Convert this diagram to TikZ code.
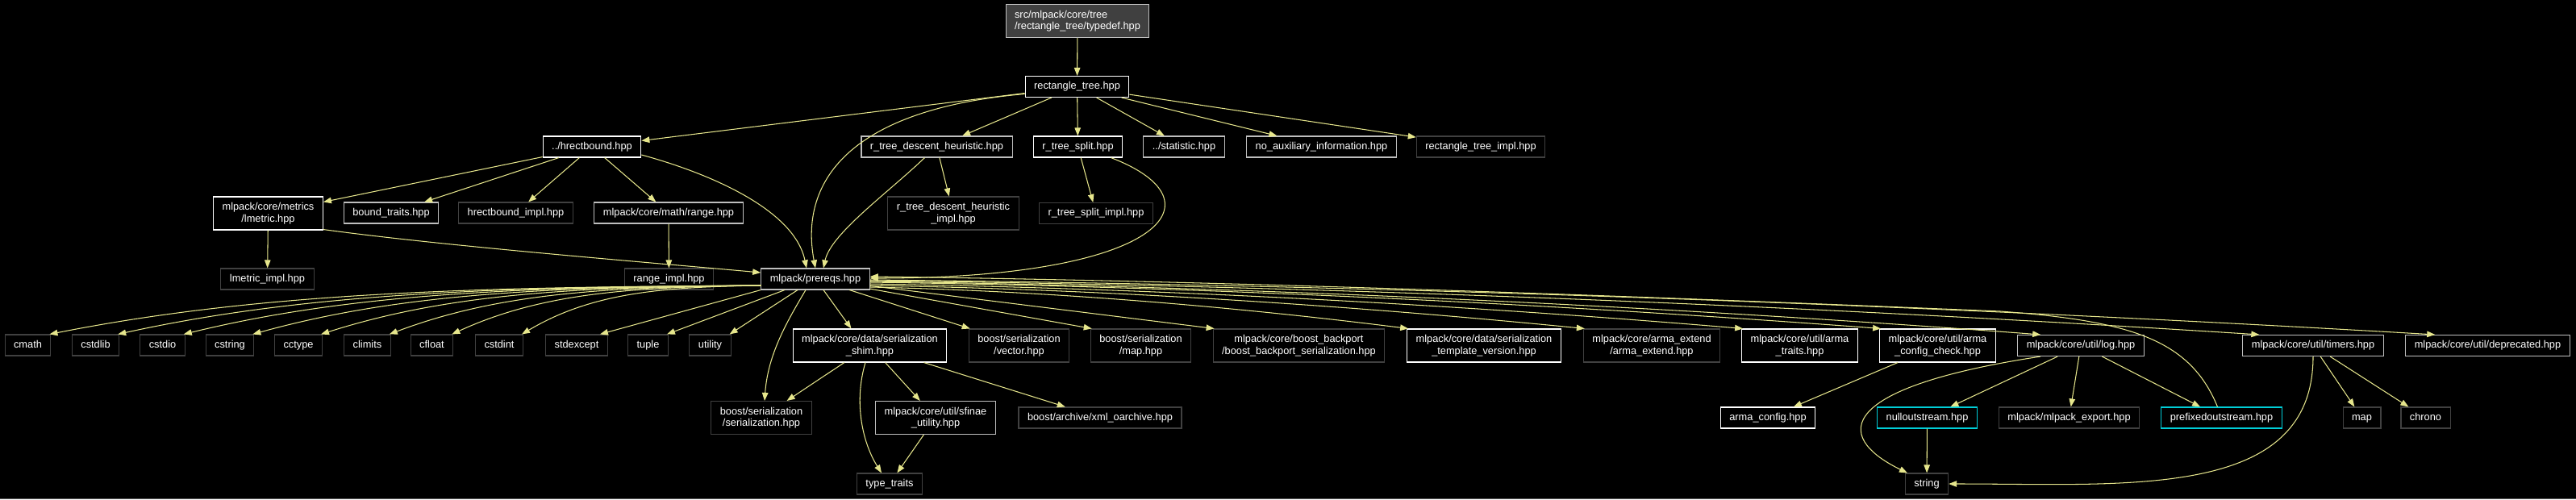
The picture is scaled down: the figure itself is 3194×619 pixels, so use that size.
\documentclass[tikz,border=0pt]{standalone}
\usepackage{fontspec}
\setmainfont{Liberation Sans}
\usetikzlibrary{arrows.meta,calc}
\definecolor{edgecol}{RGB}{230,230,140}
\definecolor{docb}{RGB}{255,255,255}
\definecolor{lgb}{RGB}{190,190,190}
\definecolor{undoc}{RGB}{64,64,64}
\definecolor{cyanb}{RGB}{0,205,215}
\definecolor{topfill}{RGB}{64,64,64}
\definecolor{framegray}{RGB}{90,90,90}
\newcommand\nodefont{\fontsize{12.8pt}{14.5pt}\selectfont}
\begin{document}
\begin{tikzpicture}[x=1pt,y=-1pt,
  nbox/.style={draw=docb, fill=black, text=white, line width=1.1pt, inner xsep=11pt, inner ysep=0pt, font=\nodefont, anchor=center},
  sbox/.style={nbox, minimum height=26pt, text height=9.4pt, text depth=2.8pt},
  tbox/.style={nbox, align=center, minimum height=41pt},
  doc/.style={draw=docb},
  lg/.style={draw=lgb},
  ud/.style={draw=undoc},
  cy/.style={draw=cyanb},
  conn/.style={draw=edgecol, line width=1.05pt, -{Triangle[length=10pt,width=7.5pt]}}]
\fill[black] (0,0) rectangle (3194,619);
\useasboundingbox (0,0) rectangle (3194,619);
\draw[framegray, line width=1pt] (0,618.5) -- (3194,618.5);

% nodes
\node[tbox,lg,fill=topfill,align=left] (top) at (1336,26) {src/mlpack/core/tree\\/rectangle\_tree/typedef.hpp};
\node[sbox,doc] (rect) at (1335.5,107.5) {rectangle\_tree.hpp};

\node[sbox,doc] (hrect) at (734,182) {../hrectbound.hpp};
\node[sbox,lg] (rtd) at (1161.5,182) {r\_tree\_descent\_heuristic.hpp};
\node[sbox,doc] (rts) at (1336.5,182) {r\_tree\_split.hpp};
\node[sbox,lg] (stat) at (1468,182) {../statistic.hpp};
\node[sbox,lg] (noaux) at (1638.5,182) {no\_auxiliary\_information.hpp};
\node[sbox,ud] (rimpl) at (1836,182) {rectangle\_tree\_impl.hpp};

\node[tbox,doc] (lmetric) at (332.5,264.5) {mlpack/core/metrics\\/lmetric.hpp};
\node[sbox,lg] (btraits) at (485,264) {bound\_traits.hpp};
\node[sbox,ud] (himpl) at (639.5,264) {hrectbound\_impl.hpp};
\node[sbox,lg] (range) at (829,264) {mlpack/core/math/range.hpp};
\node[tbox,ud] (rtdimpl) at (1182,264.5) {r\_tree\_descent\_heuristic\\\_impl.hpp};
\node[sbox,ud] (rtsimpl) at (1359,264.5) {r\_tree\_split\_impl.hpp};

\node[sbox,ud] (lmimpl) at (331.5,346) {lmetric\_impl.hpp};
\node[sbox,ud] (rgimpl) at (829.5,346) {range\_impl.hpp};
\node[sbox,lg] (prereqs) at (1011,346) {mlpack/prereqs.hpp};

\node[sbox,ud] (cmath) at (34.5,428) {cmath};
\node[sbox,ud] (cstdlib) at (118.5,428) {cstdlib};
\node[sbox,ud] (cstdio) at (201.5,428) {cstdio};
\node[sbox,ud] (cstring) at (285,428) {cstring};
\node[sbox,ud] (cctype) at (370,428) {cctype};
\node[sbox,ud] (climits) at (455.5,428) {climits};
\node[sbox,ud] (cfloat) at (535.5,428) {cfloat};
\node[sbox,ud] (cstdint) at (619,428) {cstdint};
\node[sbox,ud] (stdexcept) at (715,428) {stdexcept};
\node[sbox,ud] (tuple) at (803.5,428) {tuple};
\node[sbox,ud] (utility) at (880.5,428) {utility};
\node[tbox,doc] (shim) at (1078.5,428.5) {mlpack/core/data/serialization\\\_shim.hpp};
\node[tbox,ud] (vector) at (1263.5,428.5) {boost/serialization\\/vector.hpp};
\node[tbox,ud] (bmap) at (1414.5,428.5) {boost/serialization\\/map.hpp};
\node[tbox,ud] (backport) at (1610.5,428.5) {mlpack/core/boost\_backport\\/boost\_backport\_serialization.hpp};
\node[tbox,doc] (tmplver) at (1840,428.5) {mlpack/core/data/serialization\\\_template\_version.hpp};
\node[tbox,ud] (armaext) at (2048,428.5) {mlpack/core/arma\_extend\\/arma\_extend.hpp};
\node[tbox,doc] (armatraits) at (2231.5,428.5) {mlpack/core/util/arma\\\_traits.hpp};
\node[tbox,doc] (armacc) at (2402.5,428.5) {mlpack/core/util/arma\\\_config\_check.hpp};
\node[sbox,lg] (log) at (2580,428.5) {mlpack/core/util/log.hpp};
\node[sbox,lg] (timers) at (2868,428.5) {mlpack/core/util/timers.hpp};
\node[sbox,lg] (depr) at (3084.5,428.5) {mlpack/core/util/deprecated.hpp};

\node[tbox,ud] (serial) at (944,518) {boost/serialization\\/serialization.hpp};
\node[tbox,lg] (sfinae) at (1160,518) {mlpack/core/util/sfinae\\\_utility.hpp};
\node[sbox,ud] (xml) at (1364,518) {boost/archive/xml\_oarchive.hpp};
\node[sbox,doc] (armacfg) at (2192,518) {arma\_config.hpp};
\node[sbox,cy] (null) at (2389.5,518) {nulloutstream.hpp};
\node[sbox,ud] (export) at (2565.5,518) {mlpack/mlpack\_export.hpp};
\node[sbox,cy] (pref) at (2754.5,518) {prefixedoutstream.hpp};
\node[sbox,ud] (map) at (2928.5,518) {map};
\node[sbox,ud] (chrono) at (3007.5,518) {chrono};

\node[sbox,ud] (tt) at (1103,600) {type\_traits};
\node[sbox,ud] (string) at (2389,600) {string};

% edges
\draw[conn] (top) -- (rect);
\draw[conn] (rect) -- (hrect);
\draw[conn] (rect) -- (rtd);
\draw[conn] (rect) -- (rts);
\draw[conn] (rect) -- (stat);
\draw[conn] (rect) -- (noaux);
\draw[conn] (rect) -- (rimpl);
\draw[conn] ([yshift=-9pt]rect.west) .. controls (1060,135) and (990,220) .. (prereqs.north);

\draw[conn] (hrect) -- (lmetric);
\draw[conn] (hrect) -- (btraits);
\draw[conn] (hrect) -- (himpl);
\draw[conn] (hrect) -- (range);
\draw[conn] ([yshift=-10pt]hrect.east) .. controls (880,215) and (985,260) .. ([xshift=-11pt]prereqs.north);

\draw[conn] (lmetric) -- (lmimpl);
\draw[conn] ([yshift=1pt]lmetric.south east) .. controls (550,305) and (800,325) .. ([yshift=8pt]prereqs.west);
\draw[conn] (range) -- (rgimpl);

\draw[conn] (rtd) -- (rtdimpl);
\draw[conn] ([xshift=-15pt]rtd.south) .. controls (1100,240) and (1030,290) .. ([xshift=10pt]prereqs.north);
\draw[conn] (rts) -- (rtsimpl);
\draw[conn] ([xshift=41pt]rts.south) .. controls (1520,250) and (1440,345) .. ([yshift=1pt]prereqs.east);

% prereqs to the left
\draw[conn] ([yshift=-8pt]prereqs.west) .. controls (591,356) and (326,362) .. ([xshift=-2pt]cmath.north east);
\draw[conn] ([yshift=-8pt]prereqs.west) .. controls (624,356) and (385,362) .. ([xshift=-2pt]cstdlib.north east);
\draw[conn] ([yshift=-8pt]prereqs.west) .. controls (657,356) and (442,362) .. ([xshift=-2pt]cstdio.north east);
\draw[conn] ([yshift=-8pt]prereqs.west) .. controls (691,356) and (502,362) .. ([xshift=-2pt]cstring.north east);
\draw[conn] ([yshift=-8pt]prereqs.west) .. controls (725,356) and (562,362) .. ([xshift=-2pt]cctype.north east);
\draw[conn] ([yshift=-8pt]prereqs.west) .. controls (759,356) and (621,362) .. ([xshift=-2pt]climits.north east);
\draw[conn] ([yshift=-8pt]prereqs.west) .. controls (789,356) and (674,362) .. ([xshift=-2pt]cfloat.north east);
\draw[conn] ([yshift=-8pt]prereqs.west) .. controls (824,356) and (735,362) .. ([xshift=-2pt]cstdint.north east);
\draw[conn] (prereqs.south west) -- ([xshift=-10pt]stdexcept.north east);
\draw[conn] ([xshift=-38pt]prereqs.south) -- ([xshift=-2pt]tuple.north east);
\draw[conn] ([xshift=-22pt]prereqs.south) -- ([xshift=-2pt]utility.north east);
\draw[conn] ([xshift=-12pt]prereqs.south) .. controls (975,400) and (952,440) .. ([xshift=4pt]serial.north);
\draw[conn] ([xshift=10pt]prereqs.south) -- ([xshift=-23pt]shim.north);

% prereqs to the right
\draw[conn] (prereqs) -- ([xshift=2pt]vector.north west);
\draw[conn] (prereqs) -- ([xshift=2pt]bmap.north west);
\draw[conn] (prereqs) -- ([xshift=2pt]backport.north west);
\draw[conn] ([yshift=-10pt]prereqs.east) .. controls (1311,361) and (1544,382) .. ([xshift=2pt]tmplver.north west);
\draw[conn] ([yshift=-8pt]prereqs.east) .. controls (1388,359) and (1697,381) .. ([xshift=2pt]armaext.north west);
\draw[conn] ([yshift=-6pt]prereqs.east) .. controls (1457,358) and (1834,380) .. ([xshift=2pt]armatraits.north west);
\draw[conn] ([yshift=-4pt]prereqs.east) .. controls (1516,356) and (1954,379) .. ([xshift=2pt]armacc.north west);
\draw[conn] ([yshift=-3pt]prereqs.east) .. controls (1587,356) and (2094,382) .. ([xshift=29pt]log.north west);
\draw[conn] ([yshift=-2pt]prereqs.east) .. controls (1681,355) and (2284,382) .. ([xshift=21pt]timers.north west);
\draw[conn] ([yshift=-1pt]prereqs.east) .. controls (1758,354) and (2436,381) .. ([xshift=37pt]depr.north west);

% lower level
\draw[conn] (shim) -- (serial);
\draw[conn] (shim) -- (sfinae);
\draw[conn] (shim) -- (xml);
\draw[conn] ([xshift=-5.5pt]shim.south) .. controls (1058,500) and (1070,550) .. ([xshift=-10pt]tt.north);
\draw[conn] (sfinae) -- (tt);
\draw[conn] (armacc) -- (armacfg);
\draw[conn] ([xshift=-50pt]log.south) .. controls (2280,480) and (2270,540) .. ([xshift=-24pt]string.north);
\draw[conn] (log) -- (null);
\draw[conn] (log) -- (export);
\draw[conn] (log) -- (pref);
\draw[conn] (null) -- (string);
\draw[conn] (timers.south) .. controls (2868,620) and (2640,600) .. (string.east);
\draw[conn] (timers) -- (map);
\draw[conn] (timers) -- (chrono);
\draw[conn] ([xshift=-5pt]pref.north) .. controls (2715,420) and (2640,398) .. (2480,386) .. controls (2000,366) and (1500,348) .. ([yshift=3pt]prereqs.east);
\end{tikzpicture}
\end{document}
